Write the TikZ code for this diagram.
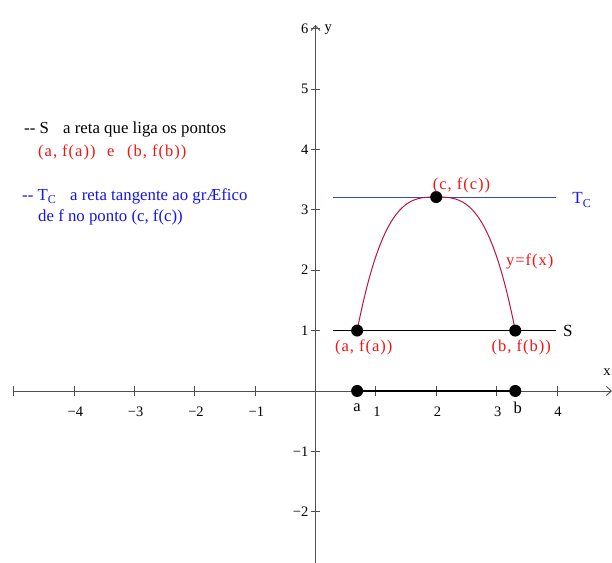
\documentclass[tikz,border=0pt]{standalone}
\usepackage{fontspec}
\setmainfont{Liberation Serif}
\newfontfamily\spacedserif[LetterSpace=6]{Liberation Serif}
\usetikzlibrary{arrows.meta}
\definecolor{curvecol}{RGB}{192,16,74}
\definecolor{tancol}{RGB}{48,80,176}
\definecolor{lblred}{RGB}{240,20,20}
\definecolor{lblblue}{RGB}{20,20,240}
\definecolor{axcol}{RGB}{80,80,80}
\newcommand{\subC}{\raisebox{-0.45ex}{\fontsize{12}{14}\selectfont C}}
\begin{document}
\begin{tikzpicture}[x=60.35pt,y=60.4pt,
  axis/.style={draw=axcol,line width=0.9pt},
  tickmark/.style={draw=axcol,line width=0.8pt},
  ticklbl/.style={font=\fontsize{14.5}{16}\selectfont,inner sep=1pt},
  dot/.style={circle,fill=black,inner sep=0pt,minimum size=12pt},
  redlbl/.style={text=lblred,font=\spacedserif\fontsize{16.5}{19}\selectfont,inner sep=1pt},
  txt/.style={font=\fontsize{16.8}{19}\selectfont,anchor=base west,inner sep=0pt},
  ftxt/.style={font=\spacedserif\fontsize{16.5}{19}\selectfont,anchor=base west,inner sep=0pt}]
\useasboundingbox (-5.228,-2.848) rectangle (4.913,6.473);
% axes
\coordinate (xl) at (-5.02,0);
\coordinate (xr) at (4.913,0);
\coordinate (yb) at (0,-2.848);
\coordinate (yt) at (0,6.06);
\draw[axis,-{Straight Barb[length=5pt,width=9pt]}] (xl) -- (xr);
\draw[axis,-{Straight Barb[length=5pt,width=9pt]}] (yb) -- (yt);
\draw[tickmark] (-5,0.08) -- (-5,-0.08);
\foreach \i/\l in {-4/{−4},-3/{−3},-2/{−2},-1/{−1},1/1,2/2,3/3,4/4}{
  \draw[tickmark] (\i,0.08) -- (\i,-0.08);
  \node[ticklbl] (xt\i) at (\i+0.02,-0.35) {\l};
}
\foreach \j/\l in {-2/{−2},-1/{−1},1/1,2/2,3/3,4/4,5/5,6/6}{
  \draw[tickmark] (-0.08,\j) -- (0.08,\j);
  \node[ticklbl,anchor=east] (yt\j) at (-0.1,\j) {\l};
}
\node[ticklbl] (xlab) at (4.83,0.31) {x};
\node[ticklbl] (ylab) at (0.21,5.98) {y};
% lines S and Tc
\coordinate (s1) at (0.29,1);
\coordinate (s2) at (3.98,1);
\coordinate (t1) at (0.29,3.21);
\coordinate (t2) at (3.98,3.21);
\draw[black,line width=0.8pt] (s1) -- (s2);
\draw[tancol,line width=0.8pt] (t1) -- (t2);
% curve
\draw[curvecol,line width=1pt,domain=0.69:3.31,samples=120,smooth]
  plot (\x,{1+2.21*(1-abs((\x-2)/1.31)^3)});
% segment on x axis
\coordinate (ax) at (0.69,0);
\coordinate (bx) at (3.31,0);
\draw[black,line width=1.8pt] (ax) -- (bx);
\node[dot] (pa) at (0.69,0) {};
\node[dot] (pb) at (3.31,0) {};
\node[dot] (fa) at (0.69,1) {};
\node[dot] (fb) at (3.31,1) {};
\node[dot] (fc) at (2,3.21) {};
\node[font=\fontsize{16.5}{19}\selectfont] (la) at (0.69,-0.28) {a};
\node[font=\fontsize{16.5}{19}\selectfont] (lb) at (3.35,-0.28) {b};
\node[redlbl] (lfa) at (0.80,0.72) {(a, f(a))};
\node[redlbl] (lfb) at (3.41,0.72) {(b, f(b))};
\node[redlbl] (lfc) at (2.42,3.40) {(c, f(c))};
\node[redlbl] (lfx) at (3.55,2.15) {y=f(x)};
\node[font=\fontsize{17}{19}\selectfont] (lS) at (4.18,1.0) {S};
\node[text=lblblue,font=\fontsize{17}{19}\selectfont] (lT) at (4.41,3.16) {T\subC};
% explanatory text
\node[txt] (t1a) at (-4.83,4.27) {-{}- S};
\node[txt] (t1b) at (-4.184,4.27) {a reta que liga os pontos};
\node[ftxt,text=lblred] (t2a) at (-4.598,3.88) {(a, f(a))};
\node[ftxt,text=lblred] (t2b) at (-3.455,3.88) {e};
\node[ftxt,text=lblred] (t2c) at (-3.123,3.88) {(b, f(b))};
\node[txt,text=lblblue] (t3a) at (-4.863,3.16) {-{}- T\subC};
\node[txt,text=lblblue] (t3b) at (-4.068,3.16) {a reta tangente ao grÆfico};
\node[txt,text=lblblue] (t4) at (-4.598,2.80) {de f no ponto (c, f(c))};
\end{tikzpicture}
\end{document}
